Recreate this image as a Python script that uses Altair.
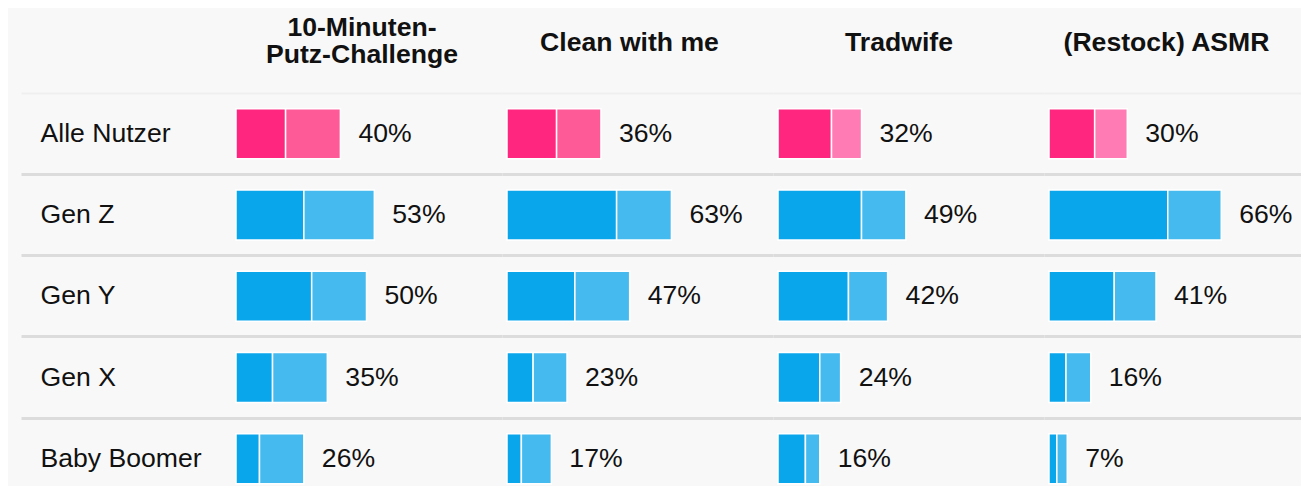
import altair as alt
import pandas as pd

FONT = "Liberation Sans"
TEXT = "#111111"
FS = 26.6

# ---- data -------------------------------------------------------------
columns = ["10-Minuten-Putz-Challenge", "Clean with me", "Tradwife", "(Restock) ASMR"]
header_lines = [["10-Minuten-", "Putz-Challenge"], ["Clean with me"], ["Tradwife"], ["(Restock) ASMR"]]
rows = ["Alle Nutzer", "Gen Z", "Gen Y", "Gen X", "Baby Boomer"]

total_putz = [40, 53, 50, 35, 26]
dark_putz = [19, 26, 29, 14, 9]

total_clean = [36, 63, 47, 23, 17]
dark_clean = [19, 42, 26, 10, 5.5]

total_trad = [32, 49, 42, 24, 16]
dark_trad = [20.5, 32, 27, 16, 10.5]

total_asmr = [30, 66, 41, 16, 7]
dark_asmr = [17.5, 45.5, 25, 6.5, 3]

totals = [total_putz, total_clean, total_trad, total_asmr]
darks = [dark_putz, dark_clean, dark_trad, dark_asmr]

series = ["Alle Nutzer dunkel", "Alle Nutzer hell A", "Alle Nutzer hell B",
          "Generation dunkel", "Generation hell"]
palette = ["#FF2680", "#FF5A98", "#FF7BB4", "#0AA6EC", "#45BAEF"]

# ---- layout ------------------------------------------------------------
PX_PER_PCT = 2.61
panel_widths = [481, 271, 271, 257]
zero_px = [215, 5, 5, 5]
title_dx = [100.5, -8, -9.5, -6]
title_offset = [11.25, 23.5, 23.5, 23.5]
PLOT_H = 394
BAND_RANGE = [0, 406.5]

grid_color = {"condition": {"test": "datum.value === 'Alle Nutzer'", "value": "#EFEFEF"},
              "value": "#DCDCDC"}
grid_width = {"condition": {"test": "datum.value === 'Alle Nutzer'", "value": 2},
              "value": 3}

color_enc = alt.Color("series:N", scale=alt.Scale(domain=series, range=palette), legend=None)


def y_enc(show_labels):
    common = dict(title=None, ticks=False, tickSize=0, domain=False, grid=True,
                  bandPosition=0, gridColor=grid_color, gridWidth=grid_width, minExtent=0)
    if show_labels:
        axis = alt.Axis(labels=True, labelAlign="left", labelPadding=-19,
                        labelBaseline="middle", labelFontSize=FS,
                        labelFont=FONT, labelColor=TEXT, labelLimit=400, **common)
    else:
        axis = alt.Axis(labels=False, **common)
    return alt.Y("row:N", sort=rows,
                 scale=alt.Scale(domain=rows, range=BAND_RANGE, paddingInner=0, paddingOuter=0),
                 axis=axis)


panels = []
for ci, col in enumerate(columns):
    recs = []
    labs = []
    for ri, r in enumerate(rows):
        d = darks[ci][ri]
        t = totals[ci][ri]
        if r == "Alle Nutzer":
            s_dark = series[0]
            s_light = series[1] if ci < 2 else series[2]
        else:
            s_dark = series[3]
            s_light = series[4]
        recs.append({"row": r, "seg": 0, "value": d, "series": s_dark})
        recs.append({"row": r, "seg": 1, "value": t - d, "series": s_light})
        labs.append({"row": r, "total": t, "label": f"{t}%"})
    df = pd.DataFrame(recs)
    lab_df = pd.DataFrame(labs)

    w = panel_widths[ci]
    z = zero_px[ci]
    xscale = alt.Scale(domain=[-z / PX_PER_PCT, (w - z) / PX_PER_PCT], nice=False, zero=False)
    y = y_enc(ci == 0)

    bars = alt.Chart(df).mark_bar(
        height=alt.RelativeBandSize(0.615), stroke="white", strokeWidth=1.5
    ).encode(
        x=alt.X("value:Q", stack="zero", scale=xscale, axis=None),
        y=y,
        color=color_enc,
        order=alt.Order("seg:Q"),
    )
    text = alt.Chart(lab_df).mark_text(
        align="left", baseline="middle", dx=18, fontSize=FS, font=FONT, color=TEXT
    ).encode(
        x=alt.X("total:Q", scale=xscale, axis=None),
        y=y,
        text="label:N",
    )
    panel = alt.layer(bars, text).properties(
        width=w, height=PLOT_H,
        title=alt.TitleParams(
            text=header_lines[ci], fontSize=FS, font=FONT, fontWeight="bold",
            color=TEXT, anchor="middle", baseline="middle", offset=title_offset[ci],
            lineHeight=27.5, dx=title_dx[ci],
        ),
    )
    panels.append(panel)

chart = alt.hconcat(*panels, spacing=0).resolve_scale(
    x="independent", y="independent"
).properties(
    padding={"left": 13, "top": 6, "right": 0, "bottom": 0},
    background="#F8F8F8",
).configure_view(stroke=None)

chart.save("out.html", embed_options={"renderer": "svg", "actions": False})
